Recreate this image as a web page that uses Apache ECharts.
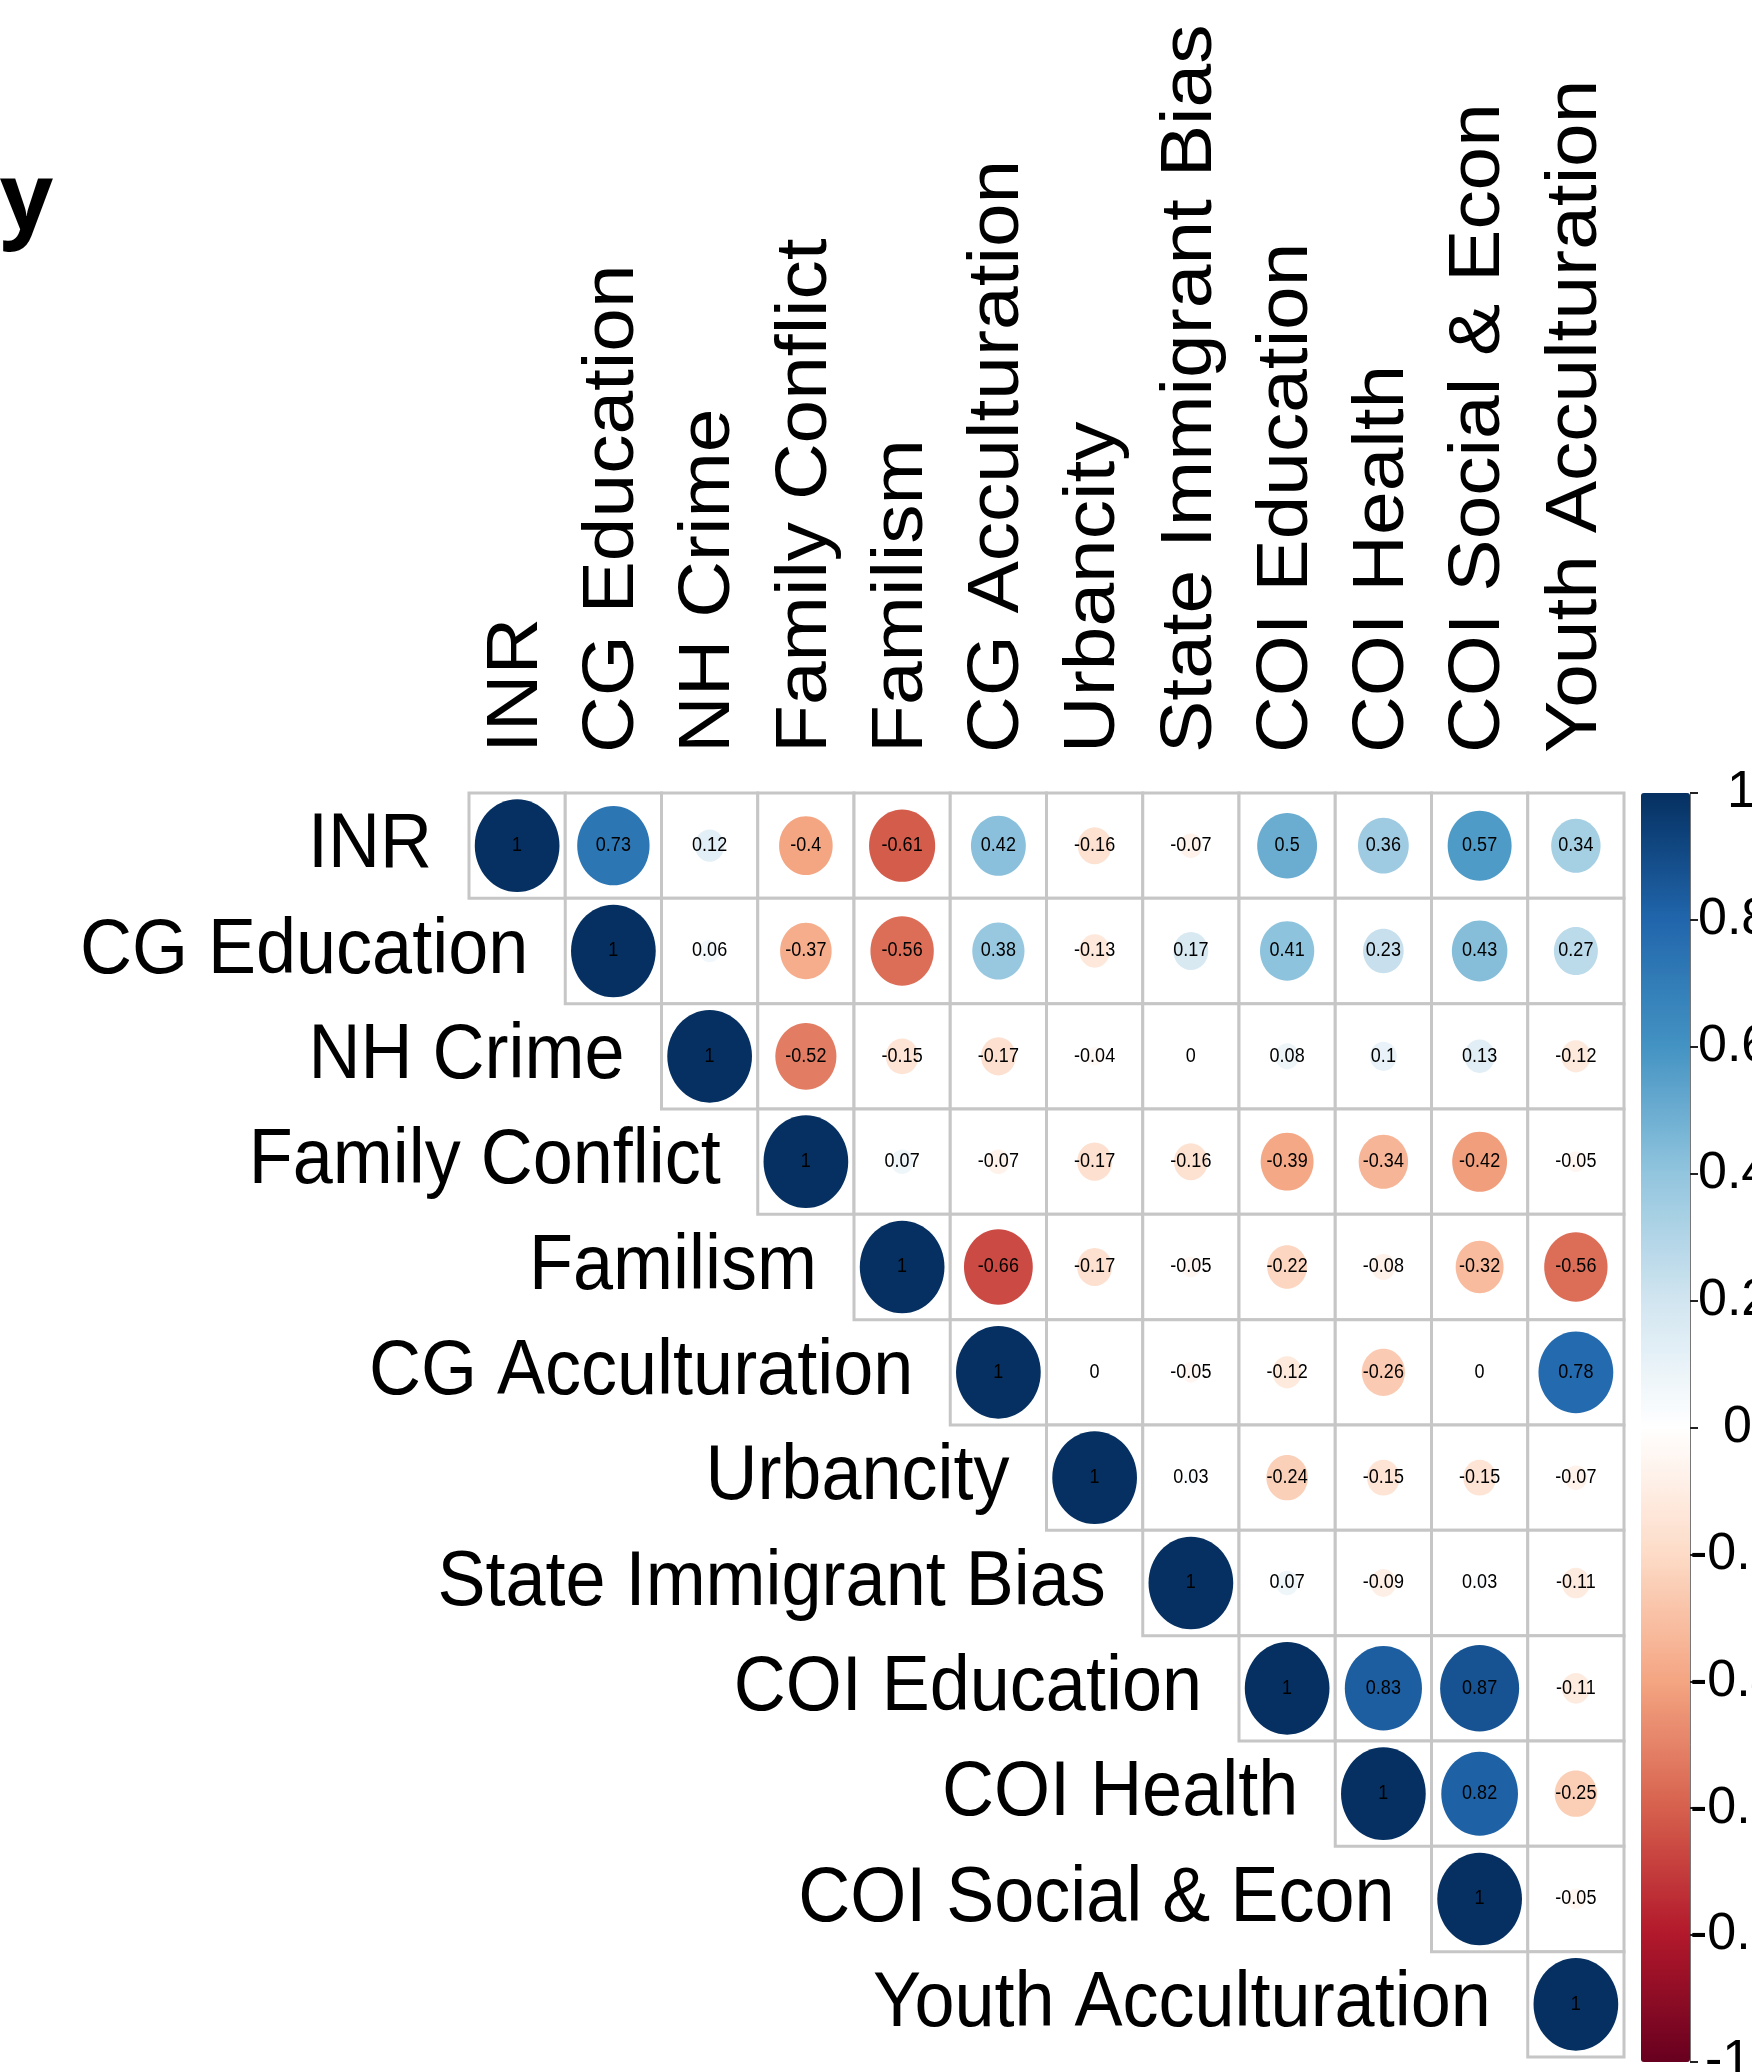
<!DOCTYPE html>
<html>
<head>
<meta charset="utf-8">
<title>Correlation matrix</title>
<script src="https://cdn.jsdelivr.net/npm/echarts@6/dist/echarts.min.js"></script>
<style>
    html, body { margin: 0; padding: 0; background: #fff; }
    #corr { width: 1752px; height: 2072px; }
</style>
</head>
<body>
<div id="corr"></div>
<script>
var variables = ['INR', 'CG Education', 'NH Crime', 'Family Conflict', 'Familism', 'CG Acculturation',
    'Urbancity', 'State Immigrant Bias', 'COI Education', 'COI Health', 'COI Social & Econ', 'Youth Acculturation'];

// upper triangle, each row starts at the diagonal
var rowINR = [1, 0.73, 0.12, -0.4, -0.61, 0.42, -0.16, -0.07, 0.5, 0.36, 0.57, 0.34];
var rowCGEducation = [1, 0.06, -0.37, -0.56, 0.38, -0.13, 0.17, 0.41, 0.23, 0.43, 0.27];
var rowNHCrime = [1, -0.52, -0.15, -0.17, -0.04, 0, 0.08, 0.1, 0.13, -0.12];
var rowFamilyConflict = [1, 0.07, -0.07, -0.17, -0.16, -0.39, -0.34, -0.42, -0.05];
var rowFamilism = [1, -0.66, -0.17, -0.05, -0.22, -0.08, -0.32, -0.56];
var rowCGAcculturation = [1, 0, -0.05, -0.12, -0.26, 0, 0.78];
var rowUrbancity = [1, 0.03, -0.24, -0.15, -0.15, -0.07];
var rowStateBias = [1, 0.07, -0.09, 0.03, -0.11];
var rowCOIEducation = [1, 0.83, 0.87, -0.11];
var rowCOIHealth = [1, 0.82, -0.25];
var rowCOISocial = [1, -0.05];
var rowYouth = [1];

var corrRows = [rowINR, rowCGEducation, rowNHCrime, rowFamilyConflict, rowFamilism, rowCGAcculturation,
    rowUrbancity, rowStateBias, rowCOIEducation, rowCOIHealth, rowCOISocial, rowYouth];

var palette = ['#67001F', '#B2182B', '#D6604D', '#F4A582', '#FDDBC7', '#FFFFFF',
    '#D1E5F0', '#92C5DE', '#4393C3', '#2166AC', '#053061'];

var cells = [];
for (var i = 0; i < corrRows.length; i++) {
    for (var k = 0; k < corrRows[i].length; k++) {
        cells.push([i + k, i, corrRows[i][k]]);
    }
}
var rowLabels = [];
var colLabels = [];
for (var i = 0; i < variables.length; i++) {
    rowLabels.push([i, i]);
    colLabels.push([i, 0]);
}

var labelFont = '"Liberation Sans", Arial, sans-serif';
var stretch = 1.09; // the original picture is a bit taller than wide

function renderCell(params, api) {
    var c = api.coord([api.value(0), api.value(1)]);
    var s = api.size([1, 1]);
    var r = api.value(2);
    var k = Math.sqrt(Math.abs(r)) * 0.44;
    return {
        type: 'group',
        children: [{
            type: 'rect',
            shape: { x: c[0] - s[0] / 2, y: c[1] - s[1] / 2, width: s[0], height: s[1] },
            style: { fill: '#fff', stroke: '#c6c6c6', lineWidth: 3 }
        }, {
            type: 'ellipse',
            shape: { cx: c[0], cy: c[1], rx: s[0] * k, ry: s[1] * k },
            style: { fill: api.visual('color') }
        }, {
            type: 'text',
            x: c[0],
            y: c[1],
            scaleY: stretch,
            style: {
                text: String(r),
                fill: '#000',
                fontSize: 18,
                fontFamily: labelFont,
                align: 'center',
                verticalAlign: 'middle'
            }
        }]
    };
}

function renderRowLabel(params, api) {
    var c = api.coord([api.value(0), api.value(1)]);
    var s = api.size([1, 1]);
    return {
        type: 'text',
        x: c[0] - s[0] / 2 - 37,
        y: c[1],
        scaleY: stretch,
        style: {
            text: variables[params.dataIndex],
            fill: '#000',
            fontSize: 72,
            fontFamily: labelFont,
            align: 'right',
            verticalAlign: 'middle'
        }
    };
}

function renderColLabel(params, api) {
    var c = api.coord([api.value(0), api.value(1)]);
    var s = api.size([1, 1]);
    return {
        type: 'text',
        x: c[0],
        y: c[1] - s[1] / 2 - 40,
        rotation: Math.PI / 2,
        scaleX: stretch,
        style: {
            text: variables[params.dataIndex],
            fill: '#000',
            fontSize: 72,
            fontFamily: labelFont,
            align: 'left',
            verticalAlign: 'middle'
        }
    };
}

var tickStyle = { fontSize: 52, fontFamily: labelFont, color: '#000' };

var option = {
    animation: false,
    backgroundColor: '#fff',
    graphic: [{
        type: 'text',
        x: 0,
        y: 203,
        style: {
            text: 'y',
            fill: '#000',
            fontSize: 93,
            fontWeight: 'bold',
            fontFamily: '"Open Sans", sans-serif',
            verticalAlign: 'middle'
        }
    }],
    grid: [{
        left: 469,
        top: 793,
        width: 1155,
        height: 1264,
        containLabel: false,
        outerBoundsMode: 'none'
    }, {
        left: 1641,
        top: 793,
        width: 49,
        height: 1269,
        containLabel: false,
        outerBoundsMode: 'none'
    }],
    xAxis: [{
        type: 'category',
        gridIndex: 0,
        data: variables,
        position: 'top',
        axisLine: { show: false },
        axisTick: { show: false },
        splitLine: { show: false },
        axisLabel: { show: false }
    }, {
        type: 'value',
        gridIndex: 1,
        min: 0,
        max: 1,
        show: false
    }],
    yAxis: [{
        type: 'category',
        gridIndex: 0,
        data: variables,
        inverse: true,
        show: false
    }, {
        type: 'value',
        gridIndex: 1,
        position: 'right',
        min: -1,
        max: 1,
        interval: 0.2,
        z: 10,
        axisLine: { show: true, onZero: false, lineStyle: { color: '#777', width: 1 } },
        axisTick: { show: true, length: 8, lineStyle: { color: '#222', width: 2 } },
        splitLine: { show: false },
        axisLabel: {
            margin: 0,
            align: 'left',
            fontSize: 52,
            fontFamily: labelFont,
            color: '#000',
            formatter: function (v) {
                var t = Math.round(v * 10) / 10;
                if (t === 1) return '{one|1}';
                if (t === 0) return '{zero|0}';
                if (t === -1) return '{m1|-1}';
                if (t > 0) return '{pos|' + t + '}';
                return String(t);
            },
            rich: {
                one: Object.assign({ padding: [0, 0, 0, 37] }, tickStyle),
                zero: Object.assign({ padding: [0, 0, 0, 33] }, tickStyle),
                pos: Object.assign({ padding: [0, 0, 0, 8] }, tickStyle),
                m1: Object.assign({ padding: [0, 0, 0, 15] }, tickStyle)
            }
        }
    }],
    visualMap: {
        type: 'continuous',
        min: -1,
        max: 1,
        seriesIndex: 0,
        dimension: 2,
        calculable: false,
        left: 1641,
        top: 793,
        padding: 0,
        itemWidth: 49,
        itemHeight: 1269,
        inRange: { color: palette }
    },
    series: [{
        type: 'custom',
        xAxisIndex: 0,
        yAxisIndex: 0,
        clip: false,
        renderItem: renderCell,
        data: cells
    }, {
        type: 'custom',
        xAxisIndex: 0,
        yAxisIndex: 0,
        clip: false,
        silent: true,
        renderItem: renderRowLabel,
        data: rowLabels
    }, {
        type: 'custom',
        xAxisIndex: 0,
        yAxisIndex: 0,
        clip: false,
        silent: true,
        renderItem: renderColLabel,
        data: colLabels
    }]
};

var myChart = echarts.init(document.getElementById('corr'));
myChart.setOption(option);
</script>
</body>
</html>
